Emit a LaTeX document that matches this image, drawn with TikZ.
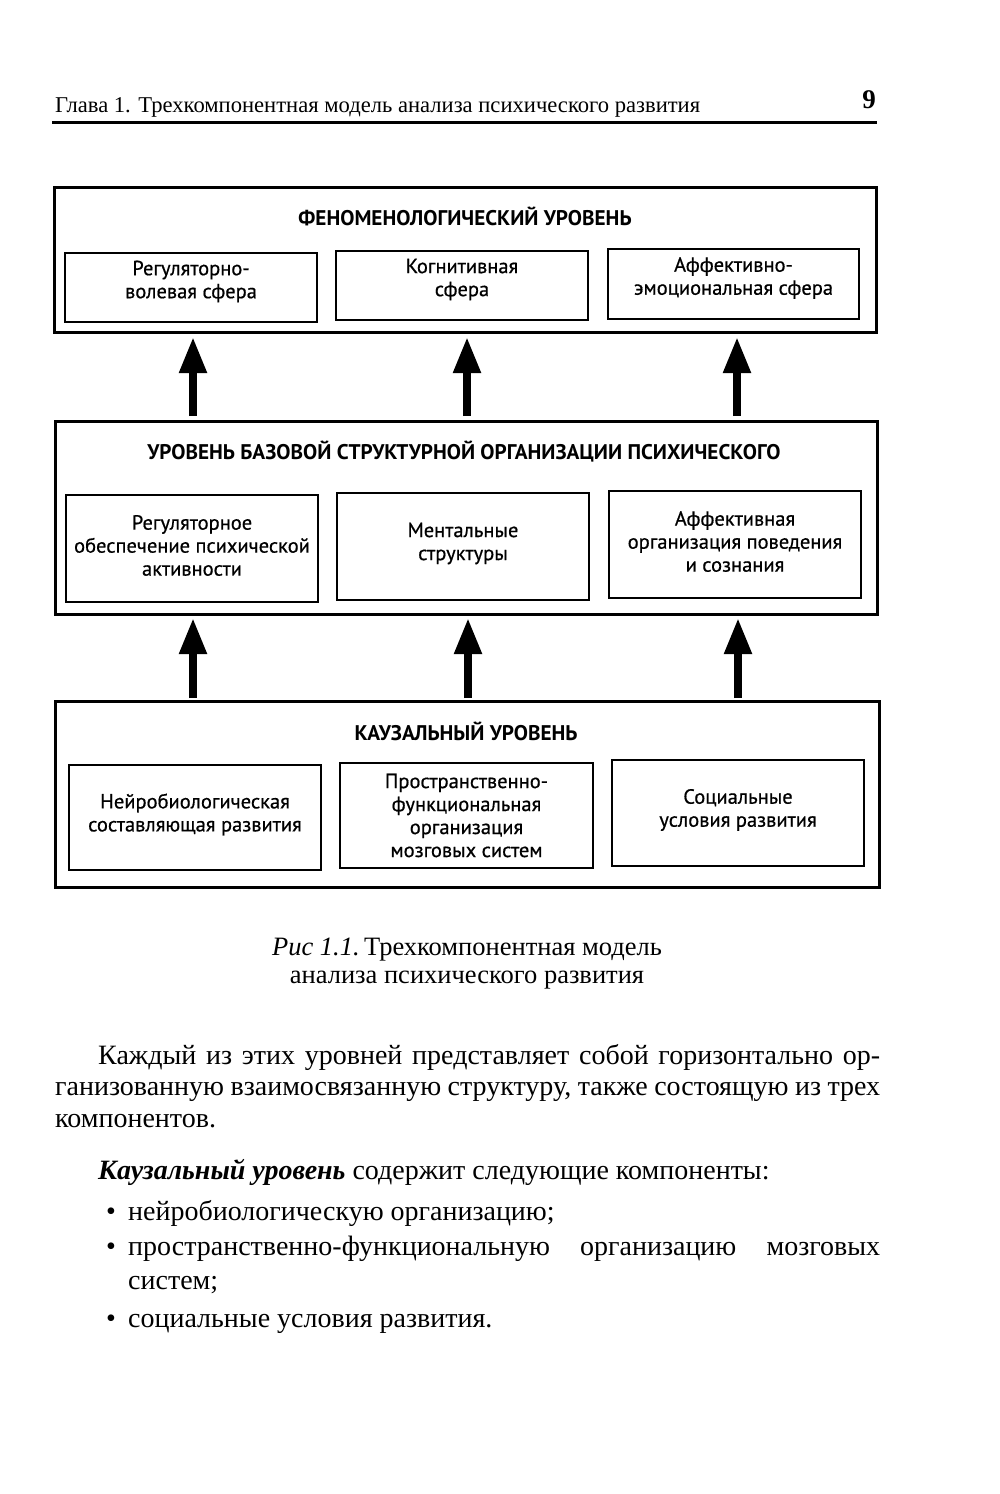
\documentclass[tikz,border=0pt]{standalone}
\usepackage{fontspec}
\setmainfont{Liberation Serif}
\newfontfamily\diag{PT Sans}[FakeBold=0.6]
\newfontfamily\diagbold{PT Sans Bold}
\usetikzlibrary{arrows.meta}
\begin{document}
\begin{tikzpicture}[x=1pt,y=-1pt,
  outerbox/.style={draw, line width=3pt, anchor=north west, inner sep=0, outer sep=0},
  innerbox/.style={draw, line width=2.5pt, anchor=north west, inner sep=0, outer sep=0},
  boxtext/.style={align=center, inner sep=0, font=\diag\fontsize{20.5}{23}\selectfont},
  lvltitle/.style={anchor=base, inner sep=0, font=\diagbold\fontsize{21.2}{24}\selectfont},
  bigarrow/.style={line width=8pt, -{Triangle[width=26pt,length=36pt]}},
  bodyline/.style={anchor=base west, inner sep=0, font=\fontsize{28}{32}\selectfont},
  capline/.style={anchor=base, inner sep=0, font=\fontsize{26.5}{30}\selectfont}
]
\useasboundingbox (0,0) rectangle (1000,1494);
\fill[white] (0,0) rectangle (1000,1494);

% running head
\node[anchor=base west, inner sep=0, font=\fontsize{22.6}{26}\selectfont] (head) at (55,112)
  {Глава 1. Трехкомпонентная модель анализа психического развития};
\node[anchor=base east, inner sep=0, font=\bfseries\fontsize{27}{30}\selectfont] (pagenum) at (876,108) {9};
\coordinate (ruleL) at (52,122);
\coordinate (ruleR) at (877,122);
\draw[line width=3pt] (ruleL) -- (ruleR);

% level 1
\node[outerbox, minimum width=822pt, minimum height=145pt] (phen) at (54,187) {};
\node[lvltitle] (phenT) at (465,225) {ФЕНОМЕНОЛОГИЧЕСКИЙ УРОВЕНЬ};
\node[innerbox, minimum width=252pt, minimum height=69pt] (phenA) at (65,253) {};
\node[innerbox, minimum width=252pt, minimum height=69pt] (phenB) at (336,251) {};
\node[innerbox, minimum width=251pt, minimum height=70pt] (phenC) at (608,249) {};
\node[boxtext] (phenAt) at ([yshift=6pt]phenA.center) {Регуляторно-\\волевая сфера};
\node[boxtext] (phenBt) at ([yshift=6pt]phenB.center) {Когнитивная\\сфера};
\node[boxtext] (phenCt) at ([yshift=6pt]phenC.center) {Аффективно-\\эмоциональная сфера};

% level 2
\node[outerbox, minimum width=822pt, minimum height=193pt] (struct) at (55,421) {};
\node[lvltitle] (structT) at (464,459) {УРОВЕНЬ БАЗОВОЙ СТРУКТУРНОЙ ОРГАНИЗАЦИИ ПСИХИЧЕСКОГО};
\node[innerbox, minimum width=252pt, minimum height=107pt] (structA) at (66,495) {};
\node[innerbox, minimum width=252pt, minimum height=107pt] (structB) at (337,493) {};
\node[innerbox, minimum width=252pt, minimum height=107pt] (structC) at (609,491) {};
\node[boxtext] (structAt) at ([yshift=3pt]structA.center) {Регуляторное\\обеспечение психической\\активности};
\node[boxtext] (structBt) at ([yshift=3pt]structB.center) {Ментальные\\структуры};
\node[boxtext] (structCt) at ([yshift=3pt]structC.center) {Аффективная\\организация поведения\\и сознания};

% level 3
\node[outerbox, minimum width=824pt, minimum height=186pt] (caus) at (55,701) {};
\node[lvltitle] (causT) at (466,740) {КАУЗАЛЬНЫЙ УРОВЕНЬ};
\node[innerbox, minimum width=252pt, minimum height=105pt] (causA) at (69,765) {};
\node[innerbox, minimum width=253pt, minimum height=105pt] (causB) at (340,763) {};
\node[innerbox, minimum width=252pt, minimum height=106pt] (causC) at (612,760) {};
\node[boxtext] (causAt) at ([yshift=3pt]causA.center) {Нейробиологическая\\составляющая развития};
\node[boxtext] (causBt) at ([yshift=0pt]causB.center) {Пространственно-\\функциональная\\организация\\мозговых систем};
\node[boxtext] (causCt) at ([yshift=3pt]causC.center) {Социальные\\условия развития};

% arrows
\coordinate (col1) at (193,0);
\coordinate (col2) at (467,0);
\coordinate (col3) at (737,0);
\coordinate (col4) at (193,0);
\coordinate (col5) at (468,0);
\coordinate (col6) at (738,0);
\draw[bigarrow, shorten <=5pt, shorten >=5pt] (struct.north -| col1) -- (phen.south -| col1);
\draw[bigarrow, shorten <=5pt, shorten >=5pt] (struct.north -| col2) -- (phen.south -| col2);
\draw[bigarrow, shorten <=5pt, shorten >=5pt] (struct.north -| col3) -- (phen.south -| col3);
\draw[bigarrow, shorten <=3pt, shorten >=4pt] (caus.north -| col4) -- (struct.south -| col4);
\draw[bigarrow, shorten <=3pt, shorten >=4pt] (caus.north -| col5) -- (struct.south -| col5);
\draw[bigarrow, shorten <=3pt, shorten >=4pt] (caus.north -| col6) -- (struct.south -| col6);

% caption
\node[capline] (cap1) at (467,955) {\textit{Рис 1.1.}\,Трехкомпонентная модель};
\node[capline] (cap2) at (467,983) {анализа психического развития};

% body text
\node[bodyline] (p1) at (98,1064) {\makebox[782pt][s]{Каждый из этих уровней представляет собой горизонтально ор-}};
\node[bodyline] (p2) at (55,1095) {\makebox[825pt][s]{ганизованную взаимосвязанную структуру, также состоящую из трех}};
\node[bodyline] (p3) at (55,1127) {компонентов.};
\node[bodyline] (p4) at (98,1179) {\textbf{\textit{Каузальный уровень}} содержит следующие компоненты:};
\node[bodyline] (b1) at (106,1220) {•};
\node[bodyline] (l1) at (128,1220) {нейробиологическую организацию;};
\node[bodyline] (b2) at (106,1255) {•};
\node[bodyline] (l2) at (128,1255) {\makebox[752pt][s]{пространственно-функциональную организацию мозговых}};
\node[bodyline] (l2b) at (128,1289) {систем;};
\node[bodyline] (b3) at (106,1327) {•};
\node[bodyline] (l3) at (128,1327) {социальные условия развития.};
\end{tikzpicture}
\end{document}
